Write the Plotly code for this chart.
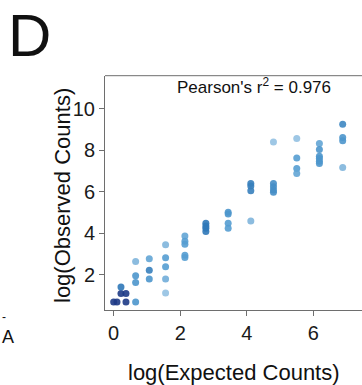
import plotly.graph_objects as go

# log expected counts (x), log observed counts (y), point density shade
expected_log = [0.00, 0.10, 0.37, 0.22, 0.37, 0.22, 0.66,
                0.66, 0.66, 0.66,
                1.07, 1.07, 1.07,
                1.56, 1.56, 1.56, 1.56, 1.56,
                2.14, 2.14, 2.14, 2.14, 2.14,
                2.77, 2.77, 2.77, 2.77,
                3.44, 3.44, 3.44, 3.44,
                4.12, 4.12, 4.12, 4.12,
                4.80, 4.80, 4.80, 4.80, 4.80,
                5.50, 5.50, 5.50, 5.50,
                6.18, 6.18, 6.18, 6.18, 6.18, 6.18,
                6.88, 6.88, 6.88, 6.88]
observed_log = [0.69, 0.69, 0.69, 1.10, 1.10, 1.41, 0.69,
                1.63, 1.95, 2.64,
                1.79, 2.21, 2.77,
                1.12, 1.79, 2.39, 2.82, 3.44,
                3.87, 3.61, 3.47, 2.94, 2.83,
                4.48, 4.35, 4.24, 4.08,
                5.01, 4.92, 4.48, 4.24,
                6.40, 6.27, 6.05, 4.59,
                6.40, 6.24, 6.08, 5.97, 8.40,
                8.56, 7.63, 7.12, 6.88,
                8.32, 8.03, 7.71, 7.60, 7.47, 7.36,
                9.25, 8.61, 8.45, 7.17]
density = [1.0, 1.0, 1.0, 1.0, 1.0, 0.75, 0.55,
           0.55, 0.55, 0.35,
           0.55, 0.7, 0.45,
           0.25, 0.4, 0.5, 0.5, 0.35,
           0.45, 0.5, 0.5, 0.5, 0.5,
           0.75, 0.75, 0.75, 0.75,
           0.55, 0.55, 0.5, 0.5,
           0.7, 0.7, 0.7, 0.35,
           0.6, 0.6, 0.6, 0.6, 0.25,
           0.25, 0.5, 0.5, 0.45,
           0.45, 0.55, 0.55, 0.55, 0.55, 0.55,
           0.65, 0.55, 0.55, 0.35]

x_ticks = [0, 2, 4, 6]
y_ticks = [2, 4, 6, 8, 10]
pearson_label = "Pearson's r<sup>2</sup> = 0.976"

W, H = 362, 385
FONT = "Arial, Liberation Sans, sans-serif"

colorscale = [[0.0, "#b3d3ea"], [0.3, "#8dbde0"], [0.5, "#559dd1"],
              [0.75, "#2f78b8"], [1.0, "#1d3a86"]]

fig = go.Figure()
fig.add_trace(go.Scatter(
    x=expected_log, y=observed_log, mode="markers",
    marker=dict(size=7, color=density, colorscale=colorscale, cmin=0, cmax=1,
                opacity=0.9, line=dict(width=0)),
    showlegend=False, hoverinfo="skip"))

axis_common = dict(showgrid=False, zeroline=False, showline=True, linecolor="#6e6e6e",
                   linewidth=1, ticks="outside", ticklen=5, tickcolor="#6e6e6e",
                   tickfont=dict(family=FONT, size=20, color="#1a1a1a"))

fig.update_layout(
    width=W, height=H, margin=dict(l=0, r=0, t=0, b=0),
    paper_bgcolor="white", plot_bgcolor="white",
    xaxis=dict(domain=[105 / W, 1], range=[-0.26, 7.46], tickvals=x_ticks, **axis_common),
    yaxis=dict(domain=[75 / H, 309.3 / H], range=[0.30, 11.59], tickvals=y_ticks, **axis_common),
)

fig.add_shape(type="line", xref="paper", yref="paper", x0=105 / W, x1=1,
              y0=309.3 / H, y1=309.3 / H, line=dict(color="#6e6e6e", width=1))

ann = [
    dict(text="D", x=6 / W, y=1.0, xanchor="left", yanchor="top", size=60),
    dict(text=pearson_label, x=254 / W, y=1 - 86 / H, xanchor="center", yanchor="middle", size=17),
    dict(text="log(Expected Counts)", x=234 / W, y=1 - 372 / H, xanchor="center", yanchor="middle", size=22),
    dict(text="A", x=0, y=1 - 337 / H, xanchor="left", yanchor="middle", size=18),
]
for a in ann:
    fig.add_annotation(text=a["text"], x=a["x"], y=a["y"], xref="paper", yref="paper",
                       xanchor=a["xanchor"], yanchor=a["yanchor"], showarrow=False,
                       font=dict(family=FONT, size=a["size"], color="#111111"))

fig.add_annotation(text="log(Observed Counts)", x=63 / W, y=1 - 196 / H, xref="paper", yref="paper",
                   textangle=-90, xanchor="center", yanchor="middle", showarrow=False,
                   font=dict(family=FONT, size=22, color="#111111"))
fig.add_annotation(text="-", x=0, y=1 - 317 / H, xref="paper", yref="paper",
                   xanchor="left", yanchor="middle", showarrow=False,
                   font=dict(family=FONT, size=12, color="#111111"))

fig.write_html("out.html")
